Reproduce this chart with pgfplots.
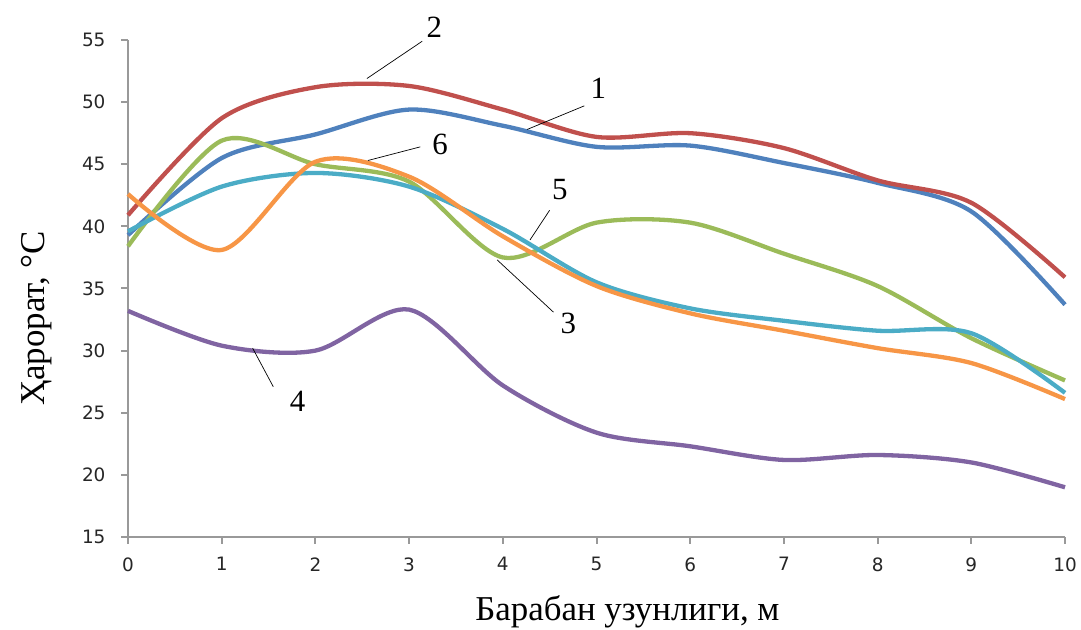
\documentclass[border=0pt]{standalone}
\usepackage{pgfplots}
\pgfplotsset{compat=1.18}
\usepackage{fontspec}
\setmainfont{Liberation Serif}
\newfontfamily\tickfont{DejaVu Sans}
\definecolor{cblue}{HTML}{4F81BD}
\definecolor{cred}{HTML}{C0504D}
\definecolor{cgreen}{HTML}{9BBB59}
\definecolor{cpurple}{HTML}{8064A2}
\definecolor{cteal}{HTML}{4BACC6}
\definecolor{corange}{HTML}{F79646}
\begin{document}
\begin{tikzpicture}[x=1bp,y=1bp]
\path[use as bounding box] (0,0) rectangle (1081,630);
\begin{axis}[
  at={(128bp,93bp)}, anchor=south west,
  scale only axis, width=937bp, height=497bp,
  xmin=0, xmax=10, ymin=15, ymax=55,
  xtick={0,1,...,10}, ytick={15,20,...,55},
  axis x line*=bottom, axis y line*=left,
  axis line style={draw=black!40, line width=2bp},
  tick style={draw=black!40, line width=2bp},
  tick align=outside, major tick length=7bp,
  /pgf/number format/assume math mode=true,
  ticklabel style={font=\tickfont\fontsize{18.5}{20}\selectfont, text=black!85},
  xticklabel style={yshift=-10bp},
  yticklabel style={xshift=-12bp},
  xlabel={Барабан узунлиги, м},
  ylabel={Ҳарорат, °C},
  label style={font=\fontsize{35}{40}\selectfont},
  xlabel style={at={(axis description cs:0.533,-0.168)}, anchor=base},
  ylabel style={at={(axis description cs:-0.0886,0.44)}, anchor=base},
  clip=false,
  every axis plot/.append style={smooth, line width=4.3bp, no markers},
]
% 1 blue
\addplot[cblue] coordinates {(0,39.3) (1,45.5) (2,47.4) (3,49.4) (4,48.1) (5,46.4) (6,46.5) (7,45.1) (8,43.5) (9,41.2) (10,33.7)};
% 2 red
\addplot[cred] coordinates {(0,40.9) (1,48.7) (2,51.2) (3,51.3) (4,49.4) (5,47.2) (6,47.5) (7,46.3) (8,43.7) (9,41.9) (10,35.9)};
% 5 green
\addplot[cgreen] coordinates {(0,38.4) (1,46.9) (2,45.0) (3,43.6) (4,37.5) (5,40.3) (6,40.3) (7,37.8) (8,35.2) (9,31.0) (10,27.6)};
% 4 purple
\addplot[cpurple] coordinates {(0,33.2) (1,30.4) (2,30.0) (3,33.3) (4,27.2) (5,23.4) (6,22.3) (7,21.2) (8,21.6) (9,21.0) (10,19.0)};
% 3 teal
\addplot[cteal] coordinates {(0,39.6) (1,43.2) (2,44.3) (3,43.2) (4,39.8) (5,35.5) (6,33.4) (7,32.4) (8,31.6) (9,31.4) (10,26.6)};
% 6 orange
\addplot[corange] coordinates {(0,42.6) (1,38.1) (2,45.2) (3,44.0) (4,39.2) (5,35.2) (6,33.0) (7,31.6) (8,30.2) (9,29.0) (10,26.1)};
% annotations
\begin{scope}[every node/.style={font=\fontsize{31}{34}\selectfont}]
\draw[black, line width=0.7bp] (axis cs:2.55,51.9) -- (axis cs:3.14,54.9);
\node at (axis cs:3.27,56.0) {2};
\draw[black, line width=0.7bp] (axis cs:4.26,47.8) -- (axis cs:4.87,49.7);
\node at (axis cs:5.02,51.1) {1};
\draw[black, line width=0.7bp] (axis cs:2.56,45.3) -- (axis cs:3.12,46.4);
\node at (axis cs:3.33,46.6) {6};
\draw[black, line width=0.7bp] (axis cs:4.29,38.9) -- (axis cs:4.50,41.3);
\node at (axis cs:4.61,43.0) {5};
\draw[black, line width=0.7bp] (axis cs:3.94,37.3) -- (axis cs:4.54,33.1);
\node at (axis cs:4.70,32.2) {3};
\draw[black, line width=0.7bp] (axis cs:1.33,30.2) -- (axis cs:1.55,27.1);
\node at (axis cs:1.81,25.9) {4};
\end{scope}
\end{axis}
\end{tikzpicture}
\end{document}
